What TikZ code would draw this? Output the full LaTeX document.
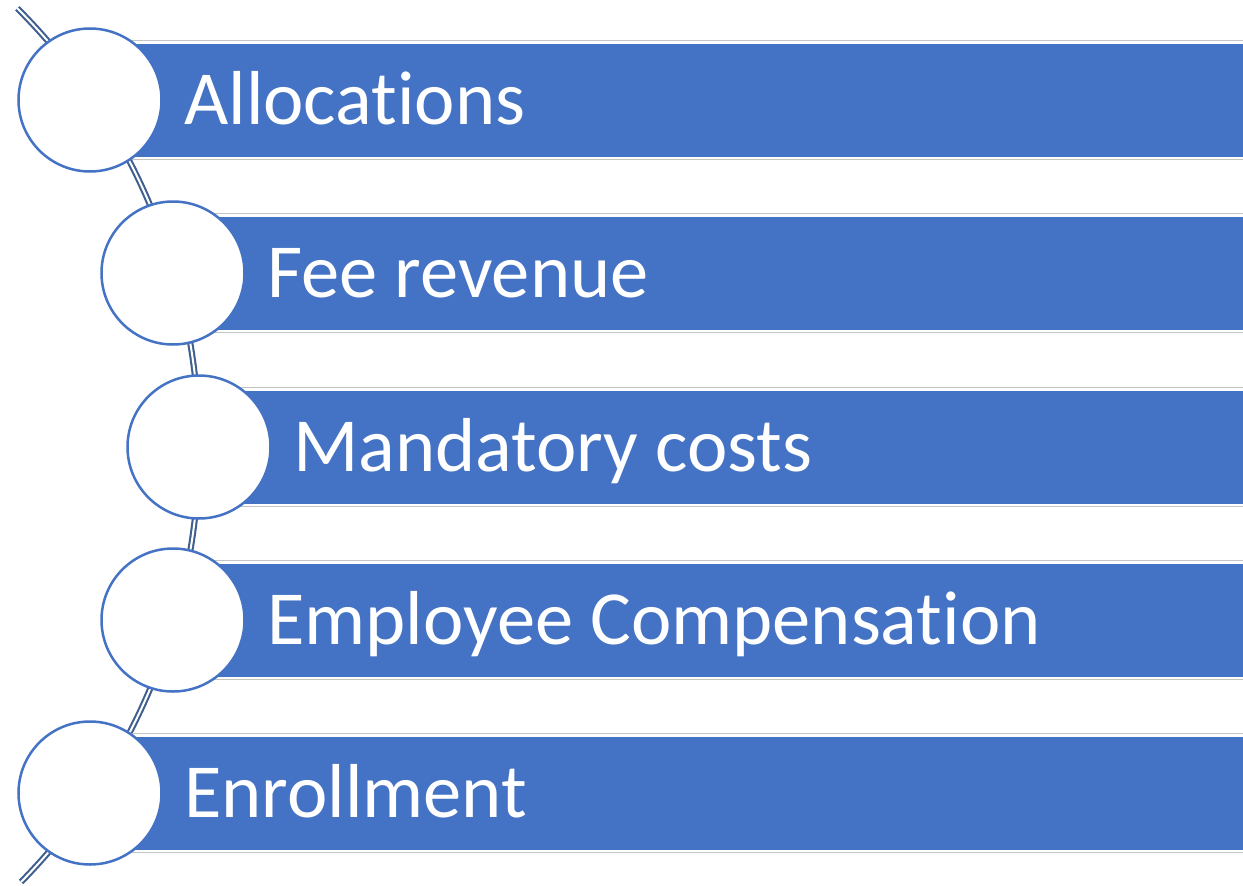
\documentclass[tikz,border=0pt]{standalone}
\usepackage{fontspec}
\setmainfont{Carlito}[Ligatures=NoCommon]
\definecolor{barblue}{HTML}{4472C4}
\definecolor{spine}{HTML}{3F5F8F}
\definecolor{rulegray}{HTML}{C4C4C4}
\begin{document}
\begin{tikzpicture}[x=1pt,y=-1pt]
\useasboundingbox (0,0) rectangle (1243,886);
\draw[spine, line width=2.1pt, double=white, double distance=2pt] (17.3,8.3) arc[start angle=-45, end angle=44.5, radius=620.5];
\foreach \cx/\cy/\txt [count=\i] in {90/100/Allocations, 173/273/Fee revenue, 199/447/Mandatory costs, 173/620/Employee Compensation, 90/793/Enrollment} {
  \draw[rulegray, line width=1.2pt] (\cx+40,\cy-59.5) -- (1243,\cy-59.5) (\cx+40,\cy+59.5) -- (1243,\cy+59.5);
  \fill[barblue] (\cx+40,\cy-56.5) rectangle (1243,\cy+56.5);
  \node[circle, draw=barblue, fill=white, line width=2.5pt, minimum size=143pt, inner sep=0] (c\i) at (\cx,\cy) {};
  \node[anchor=base west, text=white, font=\fontsize{76.5}{90}\selectfont, inner sep=0] (t\i) at (\cx+94,\cy+24) {\txt};
}
\end{tikzpicture}
\end{document}
